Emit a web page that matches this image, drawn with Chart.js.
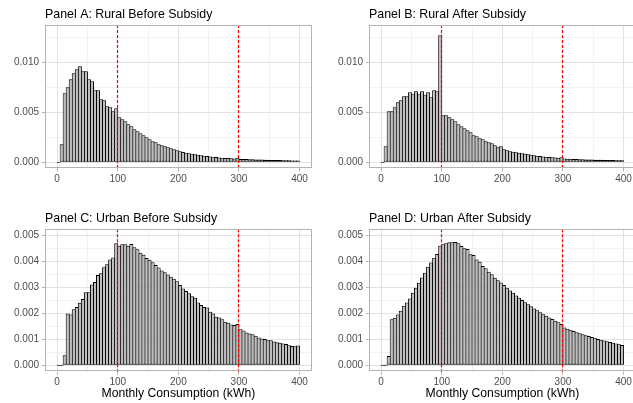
<!DOCTYPE html>
<html>
<head>
<meta charset="utf-8">
<script src="https://cdn.jsdelivr.net/npm/chart.js@4.4.1/dist/chart.umd.min.js"></script>
<style>
  html, body { margin: 0; padding: 0; background: #fff; }
  #wrap { position: relative; width: 633px; height: 403px; overflow: hidden; }
  canvas { position: absolute; }
</style>
</head>
<body>
<div id="wrap">
  <canvas id="panelA" width="316" height="200" style="left:0;top:0"></canvas>
  <canvas id="panelB" width="316" height="200" style="left:324px;top:0"></canvas>
  <canvas id="panelC" width="316" height="203" style="left:0;top:200px"></canvas>
  <canvas id="panelD" width="316" height="203" style="left:324px;top:200px"></canvas>
</div>
<script>
// histogram bins: width 5 kWh, from 0 to 400
const binCenters = Array.from({ length: 80 }, (_, i) => 2.5 + 5 * i);
const cutoffs = [100, 300];
const xAxisTitle = 'Monthly Consumption (kWh)';

const ruralBefore = [
  0, 0.0018, 0.0069, 0.0075, 0.0083, 0.0089, 0.0093, 0.0096, 0.0091, 0.0091,
  0.0083, 0.0081, 0.0072, 0.0072, 0.0063, 0.0062, 0.0056, 0.0055, 0.0051, 0.0054,
  0.0045, 0.0043, 0.0041, 0.0038, 0.0036, 0.0033, 0.0031, 0.0029, 0.0027, 0.0025,
  0.0023, 0.0021, 0.0020, 0.0018, 0.0017, 0.0016, 0.0015, 0.0014, 0.0013, 0.0012,
  0.0011, 0.00103, 0.00096, 0.0009, 0.00085, 0.0008, 0.00075, 0.0007, 0.00066, 0.00062,
  0.00058, 0.00055, 0.00052, 0.00049, 0.00046, 0.00044, 0.00042, 0.0004, 0.00038, 0.00045,
  0.00034, 0.00033, 0.00032, 0.00031, 0.0003, 0.00029, 0.00028, 0.00027, 0.00026, 0.00025,
  0.00024, 0.00023, 0.00023, 0.00022, 0.00021, 0.00021, 0.0002, 0.00019, 0.00019, 0.00018
];

const ruralAfter = [
  0, 0.0016, 0.0051, 0.0051, 0.0055, 0.0060, 0.0062, 0.0066, 0.0066, 0.0070,
  0.0068, 0.0071, 0.0068, 0.0071, 0.0067, 0.0070, 0.0065, 0.0072, 0.0071, 0.0127,
  0.0047, 0.0047, 0.0045, 0.0043, 0.0041, 0.0038, 0.0036, 0.0034, 0.0032, 0.0030,
  0.0027, 0.0026, 0.0024, 0.0023, 0.0021, 0.0020, 0.0019, 0.0017, 0.0015, 0.0016,
  0.0013, 0.0012, 0.0011, 0.00105, 0.001, 0.00095, 0.0009, 0.00085, 0.0008, 0.00075,
  0.0007, 0.00066, 0.00062, 0.00058, 0.00055, 0.00052, 0.0005, 0.00047, 0.00045, 0.0005,
  0.00038, 0.00036, 0.00035, 0.00034, 0.00032, 0.00031, 0.0003, 0.00029, 0.00028, 0.00027,
  0.00026, 0.00025, 0.00025, 0.00024, 0.00023, 0.00022, 0.00022, 0.00021, 0.0002, 0.0002
];

const urbanBefore = [
  0, 0, 0.00038, 0.00199, 0.00195, 0.00215, 0.00224, 0.0024, 0.00254, 0.0028,
  0.0028, 0.0031, 0.0032, 0.00346, 0.00353, 0.00376, 0.00388, 0.00406, 0.00414, 0.00468,
  0.00459, 0.00465, 0.00465, 0.00459, 0.00466, 0.00453, 0.00445, 0.00432, 0.00424, 0.00412,
  0.00405, 0.00395, 0.00385, 0.00375, 0.00364, 0.00357, 0.00348, 0.0034, 0.00332, 0.00322,
  0.00308, 0.00295, 0.00285, 0.00276, 0.00265, 0.00259, 0.00241, 0.00231, 0.00224, 0.00222,
  0.00205, 0.00199, 0.00186, 0.00183, 0.00176, 0.00167, 0.00163, 0.00156, 0.00154, 0.00158,
  0.00138, 0.00133, 0.00126, 0.00122, 0.00119, 0.00113, 0.00106, 0.00103, 0.00101, 0.00096,
  0.00096, 0.00091, 0.00088, 0.00086, 0.00083, 0.00081, 0.00077, 0.00074, 0.00073, 0.00076
];

const urbanAfter = [
  0, 0, 0.00035, 0.00176, 0.00182, 0.00195, 0.00209, 0.00228, 0.00241, 0.00256,
  0.00278, 0.00297, 0.00317, 0.00337, 0.00355, 0.00378, 0.00394, 0.00413, 0.00427, 0.00459,
  0.00465, 0.00468, 0.00472, 0.00472, 0.00473, 0.00468, 0.00458, 0.00449, 0.00446, 0.00426,
  0.00423, 0.00406, 0.00397, 0.00381, 0.00372, 0.00359, 0.00349, 0.00336, 0.00326, 0.00318,
  0.00308, 0.00297, 0.00287, 0.00278, 0.00268, 0.00259, 0.0025, 0.00242, 0.00234, 0.00226,
  0.00218, 0.00211, 0.00203, 0.00196, 0.0019, 0.00183, 0.00177, 0.00171, 0.00165, 0.00158,
  0.00145, 0.0014, 0.00136, 0.00131, 0.00127, 0.00123, 0.00119, 0.00115, 0.00112, 0.00108,
  0.00105, 0.00101, 0.00098, 0.00095, 0.00092, 0.00089, 0.00086, 0.00083, 0.0008, 0.00078
];

const FONT = '"Liberation Sans", Arial, Helvetica, sans-serif';

// cutoff lines, panel border and panel title
const panelDecor = {
  id: 'panelDecor',
  afterDatasetsDraw(chart) {
    const { ctx, chartArea: a, scales: { x } } = chart;
    ctx.save();
    ctx.strokeStyle = '#ff0000';
    ctx.lineWidth = 1.2;
    ctx.setLineDash([3, 2]);
    cutoffs.forEach(c => {
      const px = Math.floor(x.getPixelForValue(c)) + 0.5;
      ctx.beginPath();
      ctx.moveTo(px, a.top);
      ctx.lineTo(px, a.bottom);
      ctx.stroke();
    });
    ctx.restore();
  },
  afterDraw(chart, args, opts) {
    const { ctx, chartArea: a } = chart;
    ctx.save();
    ctx.strokeStyle = '#b3b3b3';
    ctx.lineWidth = 1;
    ctx.strokeRect(Math.round(a.left) + 0.5, Math.round(a.top) + 0.5,
      Math.round(a.right - a.left) - 1, Math.round(a.bottom - a.top) - 1);
    ctx.fillStyle = '#000';
    ctx.font = '12.4px ' + FONT;
    ctx.textAlign = 'left';
    ctx.textBaseline = 'alphabetic';
    ctx.fillText(opts.title, a.left, a.top - 7);
    ctx.restore();
  }
};

function isMajor(c, step) {
  if (!c.tick) return false;
  const v = c.tick.value;
  return Math.abs(v / step - Math.round(v / step)) < 1e-6;
}

function isMajorValue(v, step) {
  return Math.abs(v / step - Math.round(v / step)) < 1e-6;
}

function gridFor(step) {
  return {
    offset: false,
    color: c => isMajor(c, step) ? '#e2e2e2' : '#efefef',
    lineWidth: c => isMajor(c, step) ? 1 : 0.8,
    tickColor: c => isMajor(c, step) ? '#b3b3b3' : 'rgba(0,0,0,0)',
    tickLength: 3
  };
}

function drawPanel(id, title, values, yMin, yMax, yStep, yMajor, withXTitle, padTop, xHeight) {
  const ctx = document.getElementById(id).getContext('2d');

  new Chart(ctx, {
    type: 'bar',
    data: {
      datasets: [{
        data: binCenters.map((c, i) => ({ x: c, y: values[i] })),
        backgroundColor: '#bebebe',
        borderColor: '#000000',
        borderWidth: 1,
        borderSkipped: false,
        inflateAmount: 0,
        minBarLength: 1,
        barPercentage: 1.33,
        categoryPercentage: 1
      }]
    },
    plugins: [panelDecor],
    options: {
      responsive: false,
      animation: false,
      devicePixelRatio: 1,
      layout: { padding: { top: padTop, right: 4.3, left: 0, bottom: 0 } },
      plugins: {
        legend: { display: false },
        tooltip: { enabled: false },
        panelDecor: { title: title }
      },
      scales: {
        x: {
          type: 'linear',
          offset: false,
          min: -20,
          max: 420,
          afterFit: s => { s.height = xHeight; },
          border: { display: false },
          grid: gridFor(100),
          ticks: {
            stepSize: 50,
            includeBounds: false,
            maxRotation: 0,
            autoSkip: false,
            padding: 2,
            color: '#4d4d4d',
            font: { family: FONT, size: 10 },
            callback: v => isMajorValue(v, 100) ? String(v) : ''
          },
          title: {
            display: withXTitle,
            text: xAxisTitle,
            color: '#000',
            font: { family: FONT, size: 12.2 },
            padding: { top: 0, bottom: 2 }
          }
        },
        y: {
          min: yMin,
          max: yMax,
          afterFit: s => { s.width = 45; },
          border: { display: false },
          grid: gridFor(yMajor),
          ticks: {
            stepSize: yStep,
            includeBounds: false,
            autoSkip: false,
            padding: 3,
            color: '#4d4d4d',
            font: { family: FONT, size: 10 },
            callback: v => isMajorValue(v, yMajor) ? Math.abs(v).toFixed(3) : ''
          }
        }
      }
    }
  });
}

drawPanel('panelA', 'Panel A: Rural Before Subsidy', ruralBefore, -0.0006, 0.01373, 0.0025, 0.005, false, 25, 31.7);
drawPanel('panelB', 'Panel B: Rural After Subsidy', ruralAfter, -0.0006, 0.01373, 0.0025, 0.005, false, 25, 31.7);
drawPanel('panelC', 'Panel C: Urban Before Subsidy', urbanBefore, -0.00025, 0.00522, 0.0005, 0.001, true, 29.3, 31.3);
drawPanel('panelD', 'Panel D: Urban After Subsidy', urbanAfter, -0.00025, 0.00522, 0.0005, 0.001, true, 29.3, 31.3);
</script>
</body>
</html>
